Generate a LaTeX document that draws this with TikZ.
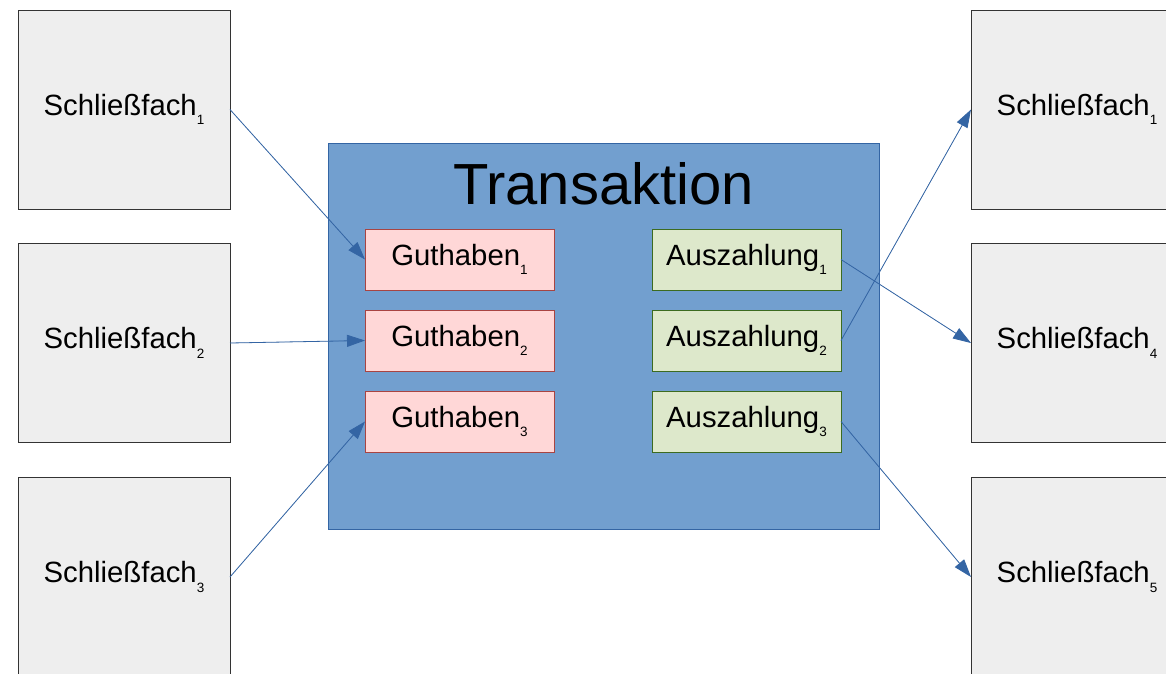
\documentclass[tikz,border=0pt]{standalone}
\usepackage{fontspec}
\setmainfont{Liberation Sans}
\usetikzlibrary{arrows.meta}

\definecolor{lockerfill}{HTML}{EEEEEE}
\definecolor{lockerdraw}{HTML}{333333}
\definecolor{transfill}{HTML}{729FCF}
\definecolor{transdraw}{HTML}{3465A4}
\definecolor{creditfill}{HTML}{FFD7D7}
\definecolor{creditdraw}{HTML}{A84442}
\definecolor{payfill}{HTML}{DDE8CB}
\definecolor{paydraw}{HTML}{3C6B20}
\definecolor{flow}{HTML}{3465A4}

% label with a small lowered index
\newcommand{\idxlabel}[2]{#1\raisebox{-9.5pt}{\fontsize{13.5}{14}\selectfont #2}}

\tikzset{
  base/.style={rectangle, inner sep=0pt, outer sep=0pt, line width=1pt,
    font=\fontsize{29.3}{30}\selectfont, text=black},
  locker/.style={base, draw=lockerdraw, fill=lockerfill,
    minimum width=212pt, minimum height=199pt},
  credit/.style={base, draw=creditdraw, fill=creditfill,
    minimum width=189pt, minimum height=61pt},
  payout/.style={base, draw=paydraw, fill=payfill,
    minimum width=189pt, minimum height=61pt},
  flowarrow/.style={draw=flow, line width=0.8pt,
    -{Triangle[length=18pt,width=12pt]}, fill=flow},
}

\begin{document}
\begin{tikzpicture}[x=1pt,y=-1pt]
  \clip (0,0) rectangle (1166,673);
  \fill[white] (0,0) rectangle (1166,673);

  % source lockers
  \node[locker] (l1) at (124,109.5) {\idxlabel{Schließfach}{1}};
  \node[locker] (l2) at (124,343)   {\idxlabel{Schließfach}{2}};
  \node[locker] (l3) at (124,577)   {\idxlabel{Schließfach}{3}};

  % target lockers
  \node[locker] (r1) at (1077,109.5) {\idxlabel{Schließfach}{1}};
  \node[locker] (r4) at (1077,343)   {\idxlabel{Schließfach}{4}};
  \node[locker] (r5) at (1077,577)   {\idxlabel{Schließfach}{5}};

  % transaction
  \node[base, draw=transdraw, fill=transfill,
        minimum width=551pt, minimum height=386pt] (trans) at (603.5,336) {};
  \node[font=\fontsize{58}{60}\selectfont, inner sep=0pt] (title) at (603.5,183.5) {Transaktion};

  \node[credit] (g1) at (459.5,259.5) {\idxlabel{Guthaben}{1}};
  \node[credit] (g2) at (459.5,340.5) {\idxlabel{Guthaben}{2}};
  \node[credit] (g3) at (459.5,421.5) {\idxlabel{Guthaben}{3}};

  \node[payout] (a1) at (746.5,259.5) {\idxlabel{Auszahlung}{1}};
  \node[payout] (a2) at (746.5,340.5) {\idxlabel{Auszahlung}{2}};
  \node[payout] (a3) at (746.5,421.5) {\idxlabel{Auszahlung}{3}};

  % flows
  \draw[flowarrow] (l1.east) -- (g1.west);
  \draw[flowarrow] (l2.east) -- (g2.west);
  \draw[flowarrow] (l3.east) -- (g3.west);
  \draw[flowarrow] (a1.east) -- (r4.west);
  \draw[flowarrow] (a2.east) -- (r1.west);
  \draw[flowarrow] (a3.east) -- (r5.west);
\end{tikzpicture}
\end{document}
